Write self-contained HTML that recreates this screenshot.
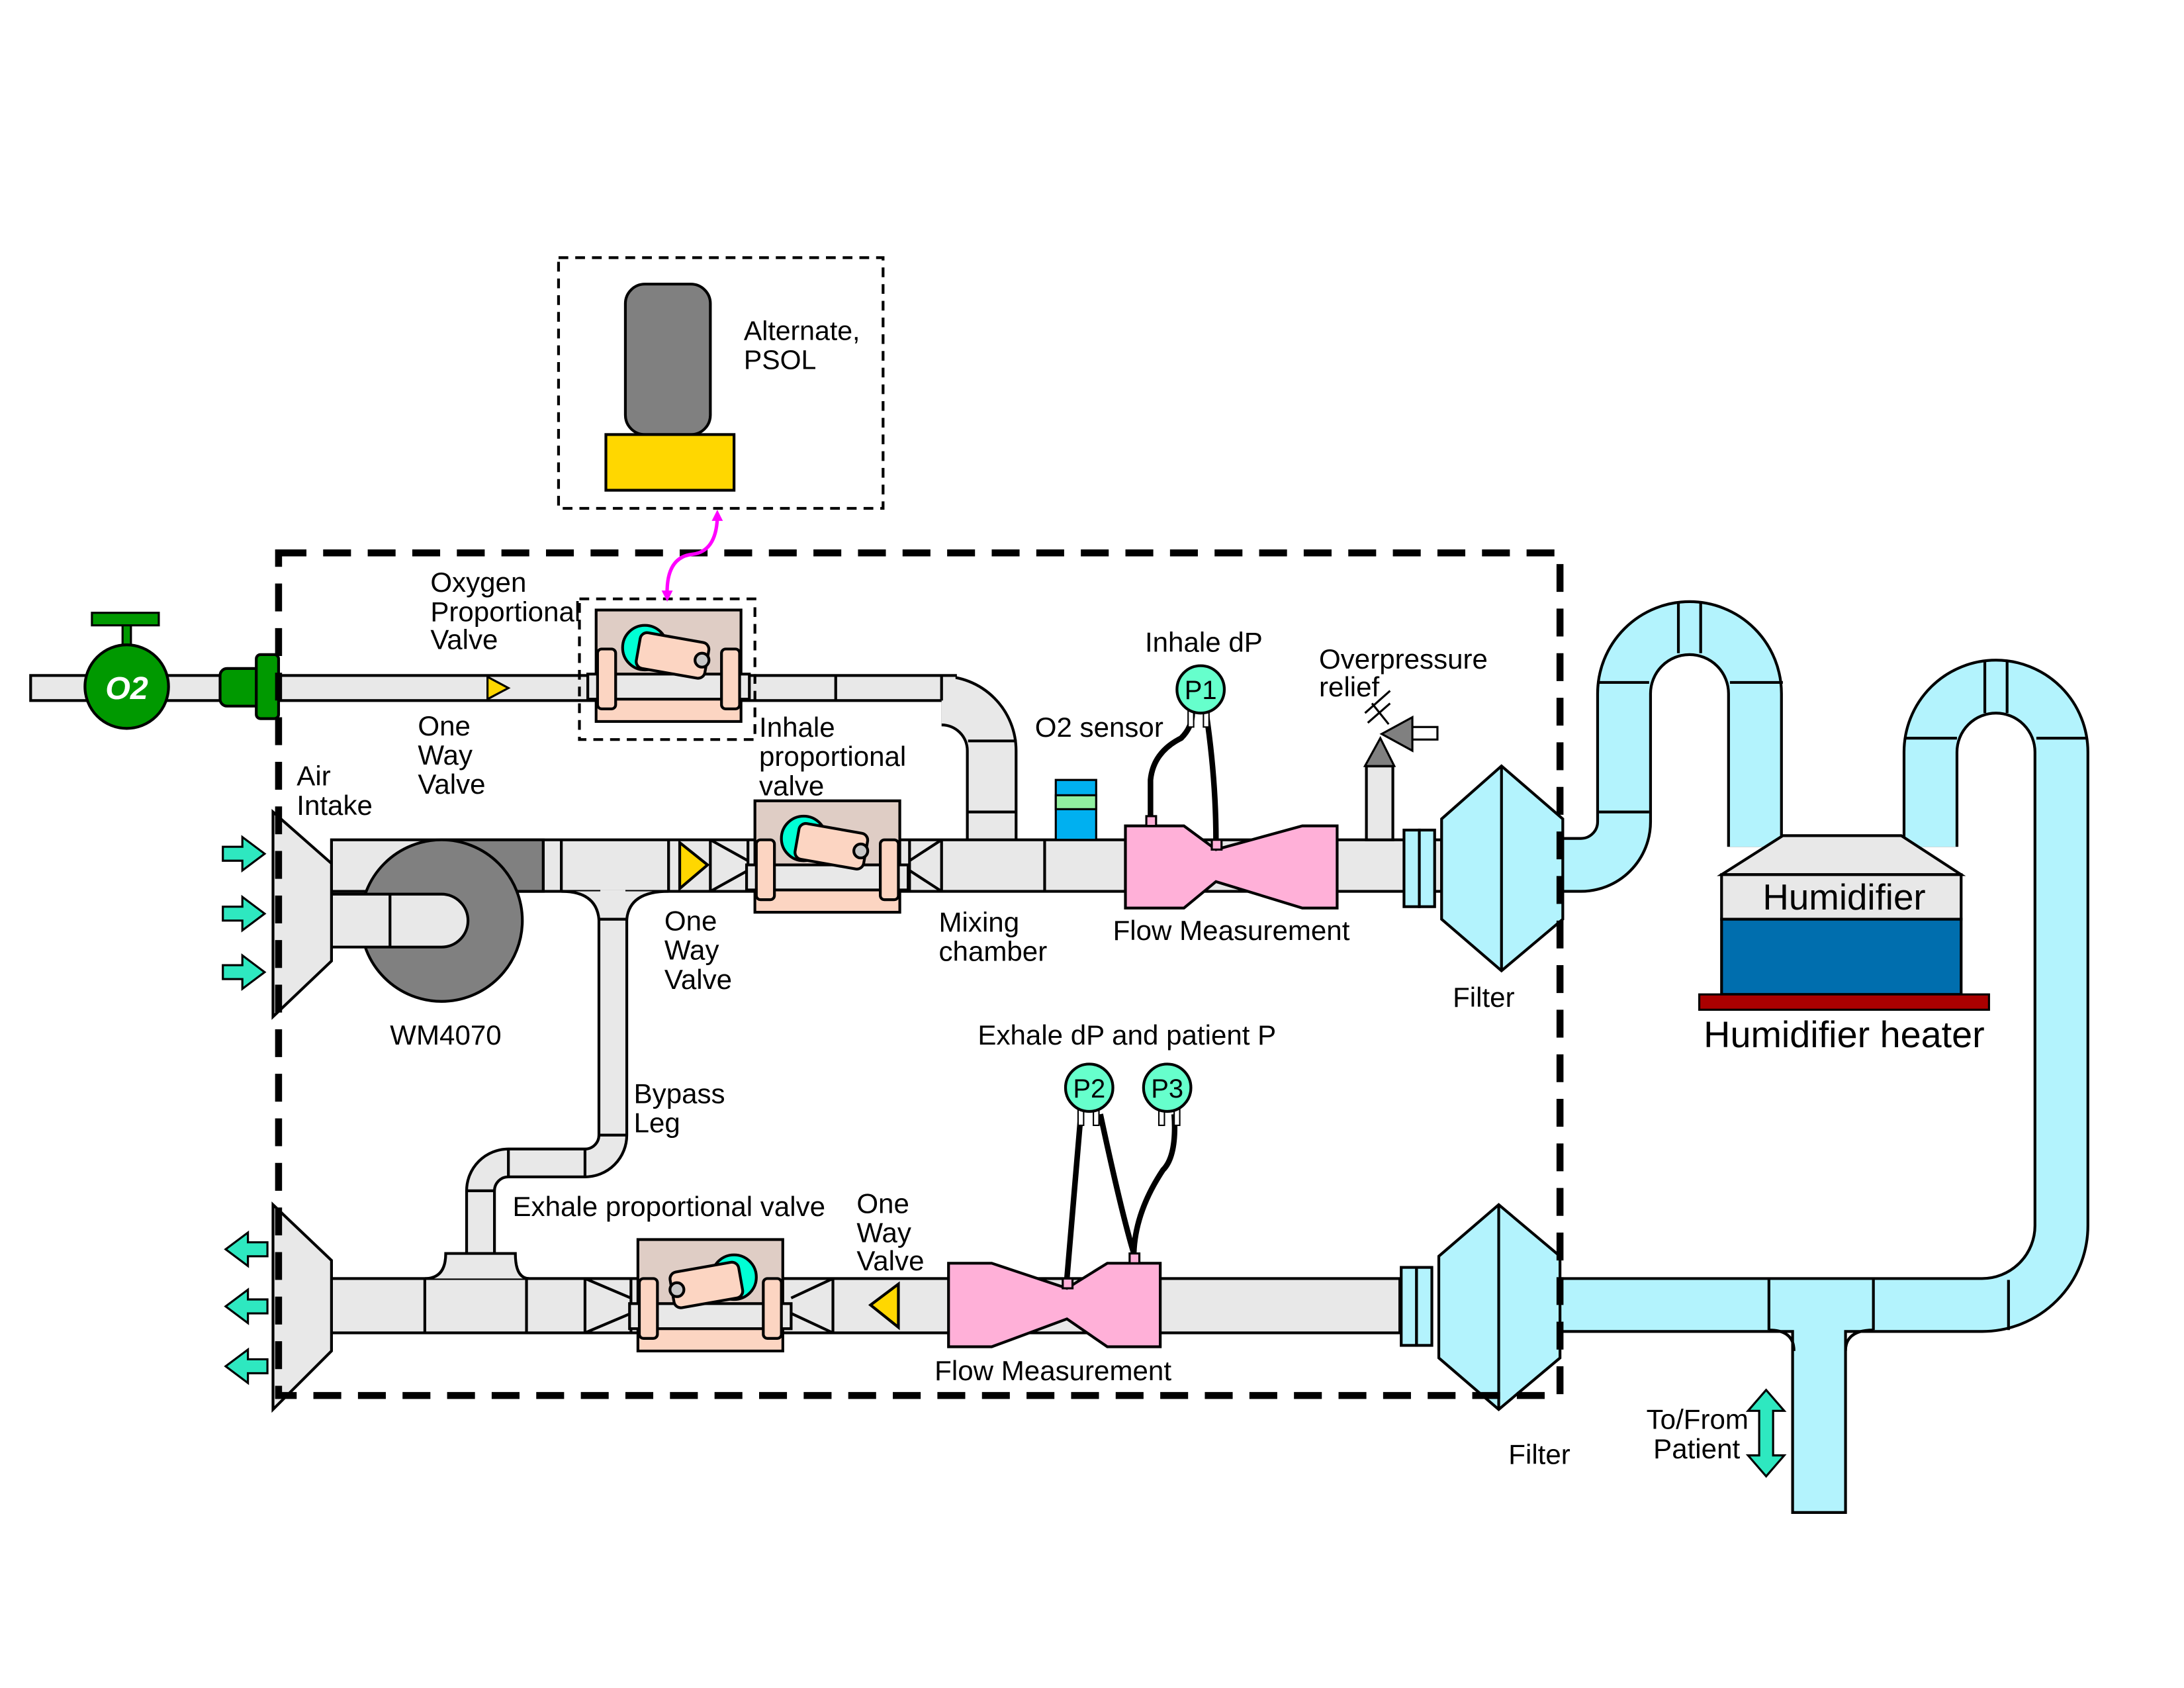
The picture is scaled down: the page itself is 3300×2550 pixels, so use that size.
<!DOCTYPE html>
<html><head><meta charset="utf-8"><style>
html,body{margin:0;padding:0;background:#fff}
svg{display:block}
text{font-family:"Liberation Sans",sans-serif;fill:#000}
</style></head><body>
<svg width="3300" height="2550" viewBox="0 0 1568 1212" preserveAspectRatio="none" xmlns="http://www.w3.org/2000/svg">
<defs>
<g id="valve">
 <rect x="0" y="0" width="104" height="80" fill="#dfcdc5" stroke="#000" stroke-width="2"/>
 <rect x="1" y="60" width="102" height="19" fill="#fcd5c2"/>
 <rect x="-6" y="46" width="116" height="18" fill="#e8e8e8" stroke="#000" stroke-width="2"/>
 <circle cx="35" cy="27" r="16" fill="#00ffd5" stroke="#000" stroke-width="2"/>
 <g transform="rotate(10 57 32)"><rect x="30" y="20" width="50" height="26" rx="5" fill="#fcd5c2" stroke="#000" stroke-width="2"/></g>
 <circle cx="76" cy="36" r="5" fill="#c8c8c8" stroke="#000" stroke-width="2"/>
 <rect x="1" y="28" width="13" height="43" rx="3" fill="#fcd5c2" stroke="#000" stroke-width="2"/>
 <rect x="90" y="28" width="13" height="43" rx="3" fill="#fcd5c2" stroke="#000" stroke-width="2"/>
</g>
<g id="arrowR"><polygon points="0,-5 14,-5 14,-12 30,0 14,12 14,5 0,5" fill="#2ee8c0" stroke="#000" stroke-width="1.5"/></g>
</defs>

<g fill="none">
 <path d="M1118,621 L1135,621 A31,31 0 0 0 1166,590 L1166,498 A47,47 0 0 1 1260,498 L1260,608" stroke="#000" stroke-width="40"/>
 <path d="M1118,621 L1135,621 A31,31 0 0 0 1166,590 L1166,498 A47,47 0 0 1 1260,498 L1260,608" stroke="#b3f3fd" stroke-width="36"/>
 <path d="M1386,608 L1386,540 A47,47 0 0 1 1480,540 L1480,880 A57,57 0 0 1 1423,937 L1118,937" stroke="#000" stroke-width="40"/>
 <path d="M1306,937 L1306,1087" stroke="#000" stroke-width="40"/>
 <path d="M1386,608 L1386,540 A47,47 0 0 1 1480,540 L1480,880 A57,57 0 0 1 1423,937 L1118,937" stroke="#b3f3fd" stroke-width="36"/>
 <path d="M1306,937 L1306,1085" stroke="#b3f3fd" stroke-width="36"/>
 <path d="M1148,490 H1184 M1242,490 H1280 M1368,530 H1405 M1462,530 H1498 M1205,433 V469 M1221,433 V469 M1425,475 V512 M1441,475 V512 M1270,919 V955 M1345,919 V955 M1442,919 V955 M1148,583 H1184" stroke="#000" stroke-width="2"/>
 <path d="M1270,955 Q1288,955 1288,970 M1345,955 Q1325,955 1325,970" stroke="#000" stroke-width="2"/>
</g>

<g>
 <polygon points="1236,628 1280,600 1365,600 1408,628" fill="#e8e8e8" stroke="#000" stroke-width="2"/>
 <rect x="1236" y="628" width="172" height="32" fill="#e8e8e8" stroke="#000" stroke-width="2"/>
 <rect x="1236" y="660" width="172" height="54" fill="#006eae" stroke="#000" stroke-width="2"/>
 <rect x="1220" y="714" width="208" height="11" fill="#aa0000" stroke="#000" stroke-width="1.5"/>
 <text x="1324" y="653" font-size="26" text-anchor="middle">Humidifier</text>
</g>
<text x="1324" y="752" font-size="26.5" text-anchor="middle">Humidifier heater</text>

<g>
 <rect x="22" y="485" width="664" height="18" fill="#e8e8e8" stroke="#000" stroke-width="2"/>
 <path d="M600,485V503" stroke="#000" stroke-width="2"/>
 <path d="M676,503 A36,36 0 0 1 712,539 L712,605" fill="none" stroke="#000" stroke-width="37"/>
 <path d="M676,503 A36,36 0 0 1 712,539 L712,607" fill="none" stroke="#e8e8e8" stroke-width="33"/>
 <rect x="676" y="486" width="10" height="16" fill="#e8e8e8"/>
 <path d="M676,485V503 M695,532H730 M695,583H730" stroke="#000" stroke-width="2"/>
</g>
<g fill="none">
 <path d="M440,650 L440,815 A20,20 0 0 1 420,835 L365,835 A20,20 0 0 0 345,855 L345,905" stroke="#000" stroke-width="22"/>
 <path d="M440,648 L440,815 A20,20 0 0 1 420,835 L365,835 A20,20 0 0 0 345,855 L345,907" stroke="#e8e8e8" stroke-width="18"/>
 <path d="M430,815H450 M420,825V845 M365,825V845 M335,855H355" stroke="#000" stroke-width="2"/>
</g>
<g>
 <rect x="238" y="603" width="797" height="37" fill="#e8e8e8" stroke="#000" stroke-width="2"/>
 <path d="M390,603V640 M403,603V640 M480,603V640 M510,603V640 M537,603V640 M653,603V640 M676,603V640 M750,603V640 M808,603V640 M960,603V640" stroke="#000" stroke-width="2"/>
 <path d="M403,640 Q428,640 430,660 H450 Q452,640 480,640" fill="#e8e8e8" stroke="#000" stroke-width="2"/>
 <rect x="431" y="639" width="18" height="20" fill="#e8e8e8"/>
 <path d="M510,603 L537,618 M510,640 L537,625 M653,618 L676,603 M653,625 L676,640" stroke="#000" stroke-width="2"/>
</g>
<g>
 <rect x="238" y="918" width="770" height="39" fill="#e8e8e8" stroke="#000" stroke-width="2"/>
 <path d="M305,918 Q320,918 320,900 H370 Q370,918 380,918" fill="#e8e8e8" stroke="#000" stroke-width="2"/>
 <path d="M305,918V957 M378,918V957 M420,918V957 M453,918V957 M598,918V957 M832,918V957 M1005,918V957 M420,918 L453,932 M420,957 L453,943 M568,932 L598,918 M568,943 L598,957" stroke="#000" stroke-width="2"/>
</g>

<g>
 <rect x="317" y="603" width="73" height="37" fill="#808080" stroke="#000" stroke-width="2"/>
 <circle cx="317" cy="661" r="58" fill="#808080" stroke="#000" stroke-width="2"/>
 <path d="M238,642 H317 A19,19 0 0 1 317,680 H238 Z" fill="#e8e8e8" stroke="#000" stroke-width="2"/>
 <path d="M280,642V680" stroke="#000" stroke-width="2"/>
</g>
<g>
 <polygon points="196,583 238,620 238,690 196,730" fill="#e8e8e8" stroke="#000" stroke-width="2"/>
 <use href="#arrowR" x="160" y="613"/><use href="#arrowR" x="160" y="656"/><use href="#arrowR" x="160" y="698"/>
</g>
<g>
 <polygon points="196,865 238,905 238,970 196,1012" fill="#e8e8e8" stroke="#000" stroke-width="2"/>
 <use href="#arrowR" transform="translate(192,897) scale(-1,1)"/>
 <use href="#arrowR" transform="translate(192,938) scale(-1,1)"/>
 <use href="#arrowR" transform="translate(192,981) scale(-1,1)"/>
</g>

<g>
 <rect x="88" y="445" width="6" height="20" fill="#009900" stroke="#000" stroke-width="1.5"/>
 <rect x="66" y="440" width="48" height="9" fill="#009900" stroke="#000" stroke-width="1.5"/>
 <circle cx="91" cy="493" r="30" fill="#009900" stroke="#000" stroke-width="2"/>
 <text x="91" y="502" font-size="23" font-weight="bold" font-style="italic" text-anchor="middle" style="fill:#fff">O2</text>
 <rect x="158" y="480" width="30" height="27" rx="5" fill="#009900" stroke="#000" stroke-width="2"/>
 <rect x="184" y="470" width="16" height="46" rx="3" fill="#009900" stroke="#000" stroke-width="2"/>
</g>
<polygon points="350,486 365,494 350,502" fill="#ffd700" stroke="#000" stroke-width="1.5"/>
<polygon points="488,605 508,621 488,638" fill="#ffd700" stroke="#000" stroke-width="2"/>
<polygon points="645,922 625,937 645,953" fill="#ffd700" stroke="#000" stroke-width="2"/>

<use href="#valve" x="428" y="438"/>
<use href="#valve" x="542" y="575"/>
<use href="#valve" transform="translate(562,890) scale(-1,1)"/>
<rect x="416" y="430" width="126" height="101" fill="none" stroke="#000" stroke-width="2" stroke-dasharray="7,5"/>

<g>
 <rect x="758" y="560" width="29" height="43" fill="#00b0f0" stroke="#000" stroke-width="1.5"/>
 <rect x="758" y="571" width="29" height="10" fill="#90f0a0" stroke="#000" stroke-width="1.5"/>
</g>

<g>
 <path d="M808,593 H850 L873,610 L935,593 H960 V652 H935 L873,633 L850,652 H808 Z" fill="#ffb0d8" stroke="#000" stroke-width="2"/>
 <rect x="823" y="586" width="7" height="7" fill="#ffb0d8" stroke="#000" stroke-width="1.5"/>
 <rect x="870" y="603" width="7" height="7" fill="#ffb0d8" stroke="#000" stroke-width="1.5"/>
 <path d="M826,586 V560 Q828,540 848,530 Q856,522 856,512 M873,603 Q873,560 866,512" fill="none" stroke="#000" stroke-width="4"/>
</g>
<g>
 <path d="M681,907 H712 L766,925 L795,907 H833 V967 H795 L766,947 L712,967 H681 Z" fill="#ffb0d8" stroke="#000" stroke-width="2"/>
 <rect x="763" y="918" width="7" height="7" fill="#ffb0d8" stroke="#000" stroke-width="1.5"/>
 <rect x="811" y="900" width="7" height="7" fill="#ffb0d8" stroke="#000" stroke-width="1.5"/>
 <path d="M766,918 L776,800 M814,900 Q805,870 790,800 M814,900 Q815,870 835,840 Q845,830 843,800" fill="none" stroke="#000" stroke-width="4"/>
</g>
<g>
 <rect x="853" y="510" width="4" height="12" fill="#fff" stroke="#000" stroke-width="1"/><rect x="864" y="510" width="4" height="12" fill="#fff" stroke="#000" stroke-width="1"/>
 <circle cx="862" cy="495" r="17" fill="#66ffcc" stroke="#000" stroke-width="2"/><text x="862" y="502" font-size="19" text-anchor="middle">P1</text>
</g>
<g>
 <rect x="774" y="796" width="4" height="12" fill="#fff" stroke="#000" stroke-width="1"/><rect x="785" y="796" width="4" height="12" fill="#fff" stroke="#000" stroke-width="1"/>
 <circle cx="782" cy="781" r="17" fill="#66ffcc" stroke="#000" stroke-width="2"/><text x="782" y="788" font-size="19" text-anchor="middle">P2</text>
</g>
<g>
 <rect x="832" y="796" width="4" height="12" fill="#fff" stroke="#000" stroke-width="1"/><rect x="843" y="796" width="4" height="12" fill="#fff" stroke="#000" stroke-width="1"/>
 <circle cx="838" cy="781" r="17" fill="#66ffcc" stroke="#000" stroke-width="2"/><text x="838" y="788" font-size="19" text-anchor="middle">P3</text>
</g>

<g>
 <rect x="981" y="550" width="19" height="53" fill="#e8e8e8" stroke="#000" stroke-width="2"/>
 <polygon points="980,550 1001,550 991,530" fill="#808080" stroke="#000" stroke-width="1.5"/>
 <polygon points="992,527 1014,515 1014,539" fill="#808080" stroke="#000" stroke-width="1.5"/>
 <rect x="1014" y="522" width="18" height="9" fill="#fff" stroke="#000" stroke-width="1.5"/>
 <path d="M985,505 L997,520 M980,512 L998,496 M982,519 L998,505" stroke="#000" stroke-width="1.5"/>
</g>

<g>
 <rect x="1008" y="596" width="11" height="55" fill="#b3f3fd" stroke="#000" stroke-width="2"/>
 <rect x="1019" y="596" width="11" height="55" fill="#b3f3fd" stroke="#000" stroke-width="2"/>
 <polygon points="1035,588 1078,550 1122,588 1122,660 1078,697 1035,660" fill="#b3f3fd" stroke="#000" stroke-width="2"/>
 <path d="M1078,550V697" stroke="#000" stroke-width="2"/>
</g>
<g>
 <rect x="1006" y="910" width="11" height="56" fill="#b3f3fd" stroke="#000" stroke-width="2"/>
 <rect x="1017" y="910" width="11" height="56" fill="#b3f3fd" stroke="#000" stroke-width="2"/>
 <polygon points="1033,902 1076,865 1120,902 1120,975 1076,1012 1033,975" fill="#b3f3fd" stroke="#000" stroke-width="2"/>
 <path d="M1076,865V1012" stroke="#000" stroke-width="2"/>
</g>

<polygon points="1268,998 1281,1013 1273,1013 1273,1045 1281,1045 1268,1060 1255,1045 1263,1045 1263,1013 1255,1013" fill="#2ee8c0" stroke="#000" stroke-width="1.5"/>

<rect x="200" y="397" width="920" height="605" fill="none" stroke="#000" stroke-width="5" stroke-dasharray="20,12"/>
<g>
 <rect x="401" y="185" width="233" height="180" fill="none" stroke="#000" stroke-width="2" stroke-dasharray="7,5"/>
 <rect x="449" y="204" width="61" height="108" rx="14" fill="#808080" stroke="#000" stroke-width="2"/>
 <rect x="435" y="312" width="92" height="40" fill="#ffd700" stroke="#000" stroke-width="2"/>
 <text x="534" y="244" font-size="19.5">Alternate,</text><text x="534" y="265" font-size="19.5">PSOL</text>
</g>
<path d="M479,428 Q478,400 497,398 Q514,396 515,372" fill="none" stroke="#ff00ff" stroke-width="2.5"/>
<polygon points="515,366 511,374 519,374" fill="#ff00ff"/><polygon points="479,432 475,424 483,424" fill="#ff00ff"/>

<g font-size="20">
 <text x="309" y="425">Oxygen</text><text x="309" y="446">Proportional</text><text x="309" y="466">Valve</text>
 <text x="300" y="528">One</text><text x="300" y="549">Way</text><text x="300" y="570">Valve</text>
 <text x="213" y="564">Air</text><text x="213" y="585">Intake</text>
 <text x="280" y="750">WM4070</text>
 <text x="545" y="529">Inhale</text><text x="545" y="550">proportional</text><text x="545" y="571">valve</text>
 <text x="477" y="668">One</text><text x="477" y="689">Way</text><text x="477" y="710">Valve</text>
 <text x="674" y="669">Mixing</text><text x="674" y="690">chamber</text>
 <text x="743" y="529">O2 sensor</text>
 <text x="822" y="468">Inhale dP</text>
 <text x="947" y="480">Overpressure</text><text x="947" y="500">relief</text>
 <text x="799" y="675">Flow Measurement</text>
 <text x="1043" y="723">Filter</text>
 <text x="702" y="750">Exhale dP and patient P</text>
 <text x="455" y="792">Bypass</text><text x="455" y="813">Leg</text>
 <text x="368" y="873">Exhale proportional valve</text>
 <text x="615" y="871">One</text><text x="615" y="892">Way</text><text x="615" y="912">Valve</text>
 <text x="671" y="991">Flow Measurement</text>
 <text x="1083" y="1051">Filter</text>
 <text x="1182" y="1026">To/From</text><text x="1187" y="1047">Patient</text>
</g>
</svg>
</body></html>
